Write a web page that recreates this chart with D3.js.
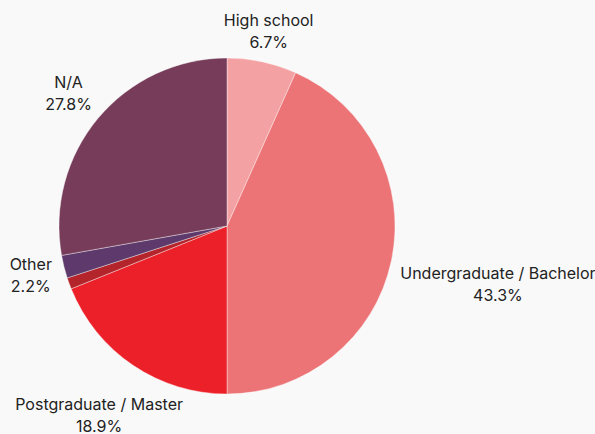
<!DOCTYPE html>
<html>
<head>
<meta charset="utf-8">
<script src="https://cdn.jsdelivr.net/npm/d3@7"></script>
<style>
  html, body { margin: 0; padding: 0; background: #f9f9f9; }
  svg { display: block; }
  text { font-family: Inter, "Noto Sans", sans-serif; }
</style>
</head>
<body>
<svg id="chart" width="595" height="434"></svg>
<script>
// Highest completed education level, share of respondents (%)
const categories = ["High school", "Undergraduate / Bachelor", "Postgraduate / Master", "Doctorate / PhD", "Other", "N/A"];
const values = [6.7, 43.3, 18.9, 1.1, 2.2, 27.8];
const colors = ["#f4a1a4", "#ec7476", "#ec2029", "#b3242b", "#5d3a6b", "#763c5a"];
const labelThreshold = 2; // slices below this share get no label

const width = 595, height = 434;
const cx = 227, cy = 226, radius = 168;
const labelGap = 178;       // nearest edge of a label block sits this far from the centre
const lineGap = 22;

const svg = d3.select("#chart");
const g = svg.append("g").attr("transform", `translate(${cx},${cy})`);

const data = categories.map((c, i) => ({ name: c, value: values[i], color: colors[i] }));

const pie = d3.pie().value(d => d.value).sort(null);
const arc = d3.arc().innerRadius(0).outerRadius(radius);
const arcs = pie(data);

g.selectAll("path.slice")
  .data(arcs)
  .join("path")
  .attr("class", "slice")
  .attr("d", arc)
  .attr("fill", d => d.data.color)
  .attr("stroke", "rgba(255,255,255,0.55)")
  .attr("stroke-width", 0.7);

// Labels: two centred lines, pushed out along the slice's mid-angle ray
const labels = g.selectAll("g.label")
  .data(arcs.filter(d => d.data.value >= labelThreshold))
  .join("g")
  .attr("class", "label");

labels.append("text")
  .attr("class", "name")
  .attr("text-anchor", "middle")
  .attr("font-size", 16)
  .attr("fill", "#222")
  .attr("y", -5)
  .text(d => d.data.name);

labels.append("text")
  .attr("class", "pct")
  .attr("text-anchor", "middle")
  .attr("font-size", 16)
  .attr("fill", "#222")
  .attr("y", -5 + lineGap)
  .text(d => d3.format(".1f")(d.data.value) + "%");

labels.each(function (d) {
  const sel = d3.select(this);
  const w = Math.max(
    sel.select("text.name").node().getComputedTextLength(),
    sel.select("text.pct").node().getComputedTextLength()
  );
  const hw = w / 2, hh = 17;
  const a = (d.startAngle + d.endAngle) / 2;
  const ux = Math.sin(a), uy = -Math.cos(a);
  // distance from the centre to the nearest point of a block centred at distance t
  const nearest = t => {
    const dx = Math.max(0, Math.abs(ux * t) - hw);
    const dy = Math.max(0, Math.abs(uy * t) - hh);
    return Math.hypot(dx, dy);
  };
  let lo = 0, hi = 600;
  for (let k = 0; k < 60; k++) {
    const mid = (lo + hi) / 2;
    if (nearest(mid) < labelGap) lo = mid; else hi = mid;
  }
  sel.attr("transform", `translate(${ux * hi},${uy * hi})`);
});
</script>
</body>
</html>
